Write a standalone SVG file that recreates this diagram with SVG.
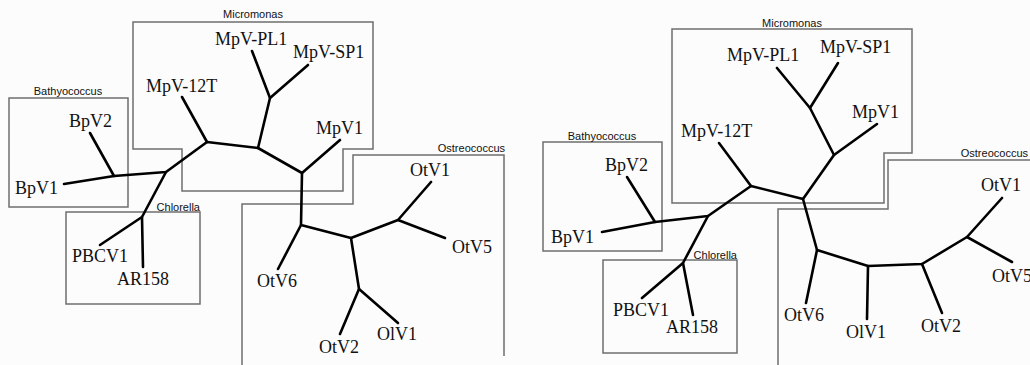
<svg xmlns="http://www.w3.org/2000/svg" width="1030" height="365" viewBox="0 0 1030 365">
<style>
.box{fill:none;stroke:#6e6e6e;stroke-width:1.5}
.br{fill:none;stroke:#000;stroke-width:2.6;stroke-linecap:round;stroke-linejoin:round}
.lab{font-family:"Liberation Serif","Times New Roman",serif;font-size:18px;fill:#111}
.grp{font-family:"Liberation Sans",Arial,sans-serif;font-size:11px;fill:#111}
</style>
<rect width="1030" height="365" fill="#fcfcfc"/>
<g id="left-panel">
<g id="L-Micromonas"><polygon class="box" points="133,22 373,22 373,149 343,149 343,191 182,191 182,149 133,149"/><text class="grp" x="253" y="18" text-anchor="middle">Micromonas</text></g>
<g id="L-Bathyococcus"><rect class="box" x="9" y="98" width="119" height="109"/><text class="grp" x="68" y="95" text-anchor="middle">Bathyococcus</text></g>
<g id="L-Chlorella"><rect class="box" x="66" y="212" width="134" height="92"/><text class="grp" x="200" y="211" text-anchor="end">Chlorella</text></g>
<g id="L-Ostreococcus"><polyline class="box" points="242,365 242,204 353,204 353,155 504,155 504,356"/><text class="grp" x="505" y="152" text-anchor="end">Ostreococcus</text></g>
<g id="L-connectors">
<polyline class="br" points="64,184 114,176 166,172 207,142 258,148 302,173 301,225 351,238 398,220 431,182"/>
<line class="br" x1="114" y1="176" x2="90" y2="133"/>
<line class="br" x1="207" y1="142" x2="182" y2="97"/>
<polyline class="br" points="258,148 270,98 252,51"/>
<line class="br" x1="270" y1="98" x2="308" y2="65"/>
<line class="br" x1="302" y1="173" x2="340" y2="140"/>
<line class="br" x1="301" y1="225" x2="278" y2="269"/>
<line class="br" x1="398" y1="220" x2="445" y2="238"/>
<polyline class="br" points="351,238 359,289 340,334"/>
<line class="br" x1="359" y1="289" x2="398" y2="323"/>
<polyline class="br" points="166,172 142,217 100,245"/>
<line class="br" x1="142" y1="217" x2="143" y2="267"/>
</g>
<g id="L-labels">
<text class="lab" x="15" y="194">BpV1</text>
<text class="lab" x="69" y="127">BpV2</text>
<text class="lab" x="146" y="92">MpV-12T</text>
<text class="lab" x="215" y="45">MpV-PL1</text>
<text class="lab" x="293" y="58">MpV-SP1</text>
<text class="lab" x="316" y="134">MpV1</text>
<text class="lab" x="410" y="176">OtV1</text>
<text class="lab" x="452" y="253">OtV5</text>
<text class="lab" x="257" y="287">OtV6</text>
<text class="lab" x="319" y="353">OtV2</text>
<text class="lab" x="377" y="340">OlV1</text>
<text class="lab" x="72" y="262">PBCV1</text>
<text class="lab" x="117" y="285">AR158</text>
</g>
</g>
<g id="right-panel">
<g id="R-Micromonas"><polygon class="box" points="672,29 912,29 912,153 884,153 884,203 672,203"/><text class="grp" x="792" y="27" text-anchor="middle">Micromonas</text></g>
<g id="R-Bathyococcus"><rect class="box" x="543" y="142" width="119" height="109"/><text class="grp" x="602" y="140" text-anchor="middle">Bathyococcus</text></g>
<g id="R-Chlorella"><rect class="box" x="603" y="260" width="134" height="93"/><text class="grp" x="737" y="259" text-anchor="end">Chlorella</text></g>
<g id="R-Ostreococcus"><polyline class="box" points="778,365 778,209 888,209 888,160 1030,160"/><text class="grp" x="1028" y="157" text-anchor="end">Ostreococcus</text></g>
<g id="R-connectors">
<polyline class="br" points="602,232 655,222 708,216 751,186 803,199 834,155 810,108 777,68"/>
<line class="br" x1="655" y1="222" x2="627" y2="177"/>
<line class="br" x1="751" y1="186" x2="719" y2="143"/>
<line class="br" x1="810" y1="108" x2="838" y2="63"/>
<line class="br" x1="834" y1="155" x2="877" y2="124"/>
<polyline class="br" points="803,199 817,250 868,266 922,264 967,237 1002,198"/>
<line class="br" x1="817" y1="250" x2="806" y2="303"/>
<line class="br" x1="868" y1="266" x2="867" y2="319"/>
<line class="br" x1="922" y1="264" x2="942" y2="313"/>
<line class="br" x1="967" y1="237" x2="1012" y2="262"/>
<polyline class="br" points="708,216 683,263 642,298"/>
<line class="br" x1="683" y1="263" x2="693" y2="315"/>
</g>
<g id="R-labels">
<text class="lab" x="551" y="243">BpV1</text>
<text class="lab" x="605" y="171">BpV2</text>
<text class="lab" x="681" y="137">MpV-12T</text>
<text class="lab" x="727" y="61">MpV-PL1</text>
<text class="lab" x="820" y="53">MpV-SP1</text>
<text class="lab" x="852" y="118">MpV1</text>
<text class="lab" x="981" y="191">OtV1</text>
<text class="lab" x="992" y="282">OtV5</text>
<text class="lab" x="784" y="321">OtV6</text>
<text class="lab" x="846" y="338">OlV1</text>
<text class="lab" x="921" y="332">OtV2</text>
<text class="lab" x="613" y="316">PBCV1</text>
<text class="lab" x="666" y="333">AR158</text>
</g>
</g>
</svg>
